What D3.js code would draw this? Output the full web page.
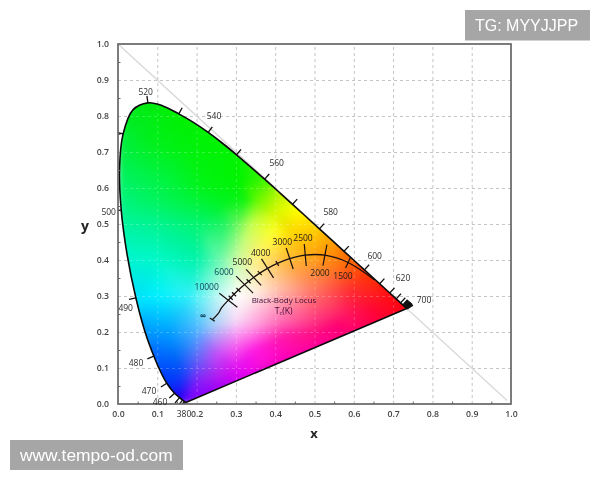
<!DOCTYPE html>
<html><head><meta charset="utf-8">
<script src="https://cdn.jsdelivr.net/npm/d3@7"></script>
<style>html,body{margin:0;padding:0;background:#fff;overflow:hidden}svg{display:block;filter:blur(.35px)}</style>
</head><body><svg id="c" width="600" height="480"></svg>
<script>
// ---- data: spectral locus
const wavelengths=[380,400,420,430,440,450,460,470,475,480,485,490,495,500,505,510,515,520,525,530,535,540,545,550,555,560,565,570,575,580,585,590,595,600,610,620,630,640,650,660,670,680,690,700];
const locusX=[.1741,.1733,.1714,.1689,.1644,.1566,.1440,.1241,.1096,.0913,.0687,.0454,.0235,.0082,.0039,.0130,.0380,.0760,.1142,.1547,.1929,.2296,.2658,.3016,.3373,.3731,.4087,.4441,.4788,.5125,.5448,.5752,.6029,.6270,.6658,.6915,.7079,.7190,.7260,.7300,.7320,.7334,.7344,.7347];
const locusY=[.0050,.0048,.0051,.0069,.0109,.0177,.0297,.0578,.0868,.1327,.2007,.2950,.4127,.5384,.6548,.7502,.8170,.8365,.8280,.8059,.7816,.7543,.7243,.6923,.6589,.6245,.5896,.5547,.5202,.4866,.4544,.4242,.3965,.3725,.3340,.3083,.2920,.2809,.2740,.2700,.2680,.2666,.2658,.2653];
const wlTicks=[420,430,440,450,460,470,480,490,500,510,520,530,540,550,560,570,580,590,600,610,620,630,640,650,660,670,680,690,700];
const wlLabels=[380,460,470,480,490,500,520,540,560,580,600,620,700];
// ---- data: black-body locus
const bbTemps=[Infinity,25000,15000,10000,9000,8000,7000,6000,5500,5000,4500,4000,3500,3000,2500,2000,1500,1000];
const bbX=[.2399,.2548,.2637,.2807,.2867,.2952,.3064,.3221,.3324,.3451,.3608,.3805,.4053,.4369,.4765,.5265,.5855,.6528];
const bbY=[.2342,.2509,.2674,.2884,.2952,.3048,.3166,.3318,.3410,.3516,.3635,.3768,.3907,.4041,.4137,.4133,.3931,.3444];
const isoTemps=[Infinity,10000,9000,8000,7000,6000,5500,5000,4500,4000,3500,3000,2500,2000,1500];
const isoDX=[5,18,4,4,4,17,4,15,4,12,3,7,2,-4,-5];
const isoDY=[3.3,14,4,4,4,17,4,16,4,19,5,21,22,21,11];
const bbLabels=["10000","6000","5000","4000","3000","2500","2000","1500","\u221e"];
const axisTicks=[0,.1,.2,.3,.4,.5,.6,.7,.8,.9,1];
const minorTicks=[.05,.15,.25,.35,.45,.55,.65,.75,.85,.95];
// ---- colours at chromaticity samples
const swatchX=[.074,.16,.23,.30,.37,.42,.46,.50,.54,.585,.64,.69,.74,
 .03,.01,0,.005,.022,.045,.07,.09,.125,.155,.175,
 .25,.33,.42,.5,.6,.68,
 .08,.17,.12,.22,.31,
 .084,.17,.27,.323,.356,.40,
 .1,.2,.27,.3,.34,.40,.45,
 .1,.2,.26,.3,.35,.42,.5,.56,
 .1,.18,.25,.3,.35,.42,.5,.59,.66,
 .13,.2,.25,.3,.35,.42,.5,.58,.65,
 .15,.2,.25,.3,.35,.42,.5,.56,
 .2,.25,.3,.37,.45,.16];
const swatchY=[.84,.81,.76,.70,.63,.58,.54,.50,.455,.41,.36,.31,.26,
 .80,.72,.6,.5,.41,.29,.2,.13,.055,.015,0,
 .04,.077,.119,.156,.2,.24,
 .72,.70,.62,.62,.62,
 .567,.567,.56,.567,.567,.53,
 .5,.5,.5,.5,.5,.48,.47,
 .4,.4,.4,.4,.4,.4,.41,.39,
 .3,.3,.3,.3,.31,.32,.32,.317,.3,
 .2,.2,.22,.23,.22,.23,.24,.25,.27,
 .12,.12,.14,.16,.15,.186,.2,.22,
 .06,.08,.1,.11,.15,.06];
const swatchC=["#00ec10","#00f000","#00f200","#00f400","#38f400","#c8f800","#ffff00","#ffd800","#ffa400","#ff6c00","#ff3400","#ff1010","#ff0010",
 "#00ec20","#00ee40","#00f270","#00f4a0","#00f6cc","#00e0ff","#0098ff","#0060ff","#0030f8","#2000f4","#7000ff",
 "#a000f8","#e800f0","#ff00c0","#ff00a0","#ff0070","#ff0030",
 "#00f020","#00f210","#00f440","#00f410","#00f400",
 "#00f460","#00f440","#00f420","#10f410","#68f800","#d8f800",
 "#00f490","#00f470","#20f460","#60f460","#c8ff50","#ffff20","#ffd000",
 "#00f8c8","#00f4ac","#70f8b0","#c8fca8","#fff080","#ffc040","#ffa010","#ff7810",
 "#00f0ff","#30f0f8","#b8f8f4","#ffffff","#fff0e4","#ffb8a0","#ff7860","#ff3030","#ff1820",
 "#00a0ff","#50b0ff","#b0d0f8","#f8d8f8","#ffa0e0","#ff68b0","#ff4080","#ff1860","#ff0830",
 "#0060f8","#6060f8","#c050f8","#f860f0","#ff18e0","#ff18a8","#ff1080","#ff0070",
 "#8020f8","#b020f0","#e010f0","#f810d0","#ff08a8","#1030f8"];

// ---- layout of annotations (not data)
const wlLabelAt={380:[184,413],460:[160,401.5],470:[149,390],480:[136,362.7],490:[125.7,307],500:[108.7,211.7],520:[145.7,91.7],540:[214,115],560:[276.7,162.3],580:[330.7,211.7],600:[374.7,255],620:[403,277],700:[424,299.7]};
const bbLabelAt=[[206.7,286],[224,271.3],[242.3,261.3],[260.7,252],[282.3,241.3],[303,237.7],[320,272.7],[343,275],[203.3,315]];
const M={l:118,t:44,r:511,b:404}, W=M.r-M.l, H=M.b-M.t;
const FONT='"Open Sans",sans-serif';

const svg=d3.select("#c");
const x=d3.scaleLinear().domain([0,1]).range([M.l,M.r]);
const y=d3.scaleLinear().domain([0,1]).range([M.b,M.t]);
const locus=wavelengths.map((w,i)=>({w,x:locusX[i],y:locusY[i]}));
const line=d3.line().x(d=>x(d.x)).y(d=>y(d.y)).curve(d3.curveCatmullRom);

const defs=svg.append("defs");
defs.append("clipPath").attr("id","loc").append("path").attr("d",line(locus)+"Z");
defs.append("clipPath").attr("id","plot").append("rect").attr("x",M.l).attr("y",M.t).attr("width",W).attr("height",H);

// grid
const gridG=svg.append("g");
function grid(sel,stroke,op){
  const gx=sel.append("g").attr("transform",`translate(0,${M.b})`).call(d3.axisBottom(x).tickValues(axisTicks.slice(1,-1)).tickSize(-H).tickFormat(""));
  const gy=sel.append("g").attr("transform",`translate(${M.l},0)`).call(d3.axisLeft(y).tickValues(axisTicks.slice(1,-1)).tickSize(-W).tickFormat(""));
  [gx,gy].forEach(g=>{g.select(".domain").remove();g.selectAll("line").attr("stroke",stroke).attr("stroke-opacity",op).attr("stroke-width",1).attr("stroke-dasharray","3,3");});
}
grid(gridG,"#c4c4c4",1);
// diagonal x + y = 1
svg.append("line").attr("x1",x(0)).attr("y1",y(1)).attr("x2",x(.99)).attr("y2",y(.01)).attr("stroke","#d8d8d8").attr("stroke-width",1.3);

// colour field: linear interpolation between the colour samples
const swatches=swatchC.map(c=>d3.rgb(c));
const px=swatchX.map(v=>x(v)), py=swatchY.map(v=>y(v));
const del=d3.Delaunay.from(px.map((v,i)=>[v,py[i]]));
const tris=del.triangles, list=[];
for(let t=0;t<tris.length/3;t++){const a=tris[3*t],b=tris[3*t+1],c=tris[3*t+2];
  list.push({a,b,c,d:(py[b]-py[c])*(px[a]-px[c])+(px[c]-px[b])*(py[a]-py[c])});}
function triAt(u,v){
  for(const t of list){
    const l1=((py[t.b]-py[t.c])*(u-px[t.c])+(px[t.c]-px[t.b])*(v-py[t.c]))/t.d;
    const l2=((py[t.c]-py[t.a])*(u-px[t.c])+(px[t.a]-px[t.c])*(v-py[t.c]))/t.d;
    const l3=1-l1-l2;
    if(l1>=-1e-6&&l2>=-1e-6&&l3>=-1e-6) return [t.a,t.b,t.c,l1,l2,l3];
  }
  const i=del.find(u,v); return [i,i,i,1,0,0];
}
const cv=document.createElement("canvas");cv.width=W;cv.height=H;
const ctx=cv.getContext("2d"),im=ctx.createImageData(W,H);
for(let j=0;j<H;j++)for(let i=0;i<W;i++){
  const k=4*(j*W+i);
  const [a,b,c,l1,l2,l3]=triAt(M.l+i+.5,M.t+j+.5), A=swatches[a],B=swatches[b],C=swatches[c];
  im.data[k]=l1*A.r+l2*B.r+l3*C.r;
  im.data[k+1]=l1*A.g+l2*B.g+l3*C.g;
  im.data[k+2]=l1*A.b+l2*B.b+l3*C.b;
  im.data[k+3]=255;
}
ctx.putImageData(im,0,0);
const cv2=document.createElement("canvas");cv2.width=W;cv2.height=H;
const c2=cv2.getContext("2d");c2.filter="blur(3px)";c2.drawImage(cv,0,0);
svg.append("image").attr("x",M.l).attr("y",M.t).attr("width",W).attr("height",H).attr("href",cv2.toDataURL()).attr("clip-path","url(#loc)");
grid(svg.append("g").attr("clip-path","url(#loc)"),"#fff",.22);

// locus outline
svg.append("path").attr("d",line(locus)+"Z").attr("fill","none").attr("stroke","#0b0b0b").attr("stroke-width",1.6).attr("stroke-linejoin","round");

// wavelength ticks
const tickG=svg.append("g").attr("clip-path","url(#plot)");
tickG.selectAll("line").data(wlTicks).join("line").each(function(w){
  const i=wavelengths.indexOf(w),a=locus[Math.max(i-1,0)],b=locus[Math.min(i+1,locus.length-1)];
  const tx=x(b.x)-x(a.x),ty=y(b.y)-y(a.y),n=Math.hypot(tx,ty)||1,len=7;
  d3.select(this).attr("x1",x(locus[i].x)).attr("y1",y(locus[i].y)).attr("x2",x(locus[i].x)+ty/n*len).attr("y2",y(locus[i].y)-tx/n*len);
}).attr("stroke","#111").attr("stroke-width",w=>w>=650?2.6:1.3);

// black-body locus
const bb=bbTemps.map((t,i)=>({t,x:bbX[i],y:bbY[i]}));
svg.append("path").attr("d",line(bb)).attr("fill","none").attr("stroke","#1a1010").attr("stroke-width",1.3);
svg.append("g").selectAll("line").data(isoTemps).join("line").each(function(t,i){
  const p=bb.find(d=>d.t===t);
  d3.select(this).attr("x1",x(p.x)-isoDX[i]/2).attr("y1",y(p.y)-isoDY[i]/2).attr("x2",x(p.x)+isoDX[i]/2).attr("y2",y(p.y)+isoDY[i]/2);
}).attr("stroke","#1a1010").attr("stroke-width",1.2);

// frame + axes
svg.append("rect").attr("x",M.l).attr("y",M.t).attr("width",W).attr("height",H).attr("fill","none").attr("stroke","#666").attr("stroke-width",1.7);
const ax=svg.append("g").attr("transform",`translate(0,${M.b})`).call(d3.axisBottom(x).tickValues(axisTicks).tickSize(0).tickPadding(7).tickFormat(d3.format(".1f")));
const ay=svg.append("g").attr("transform",`translate(${M.l},0)`).call(d3.axisLeft(y).tickValues(axisTicks).tickSize(0).tickPadding(9).tickFormat(d3.format(".1f")));
[ax,ay].forEach(g=>{g.select(".domain").remove();g.selectAll("text").attr("font-family",FONT).attr("font-size",8.7).attr("font-weight",600).attr("fill","#444");});
const mx=svg.append("g").attr("transform",`translate(0,${M.b})`).call(d3.axisTop(x).tickValues(minorTicks).tickSize(2.5).tickFormat(""));
const my=svg.append("g").attr("transform",`translate(${M.l},0)`).call(d3.axisRight(y).tickValues(minorTicks).tickSize(2.5).tickFormat(""));
[mx,my].forEach(g=>{g.select(".domain").remove();g.selectAll("line").attr("stroke","#666");});
const title=(t,tx,ty,s)=>svg.append("text").text(t).attr("x",tx).attr("y",ty).attr("text-anchor","middle").attr("dominant-baseline","central").attr("font-family",FONT).attr("font-weight",700).attr("font-size",s).attr("fill","#222");
title("x",314,433,13);title("y",85,225,14);

// annotations
const ann=(t,p,s,f)=>svg.append("text").text(t).attr("x",p[0]).attr("y",p[1]).attr("text-anchor","middle").attr("dominant-baseline","central").attr("font-family",FONT).attr("font-size",s).attr("fill",f);
wlLabels.forEach(w=>ann(w,wlLabelAt[w],8.5,"#2c2c2c"));
bbLabels.forEach((t,i)=>ann(t,bbLabelAt[i],i===8?9:8.5,i<2||i===8?"#0f4558":"#221c18").attr("font-weight",i===8?700:400));
ann("Black-Body Locus",[284,299.7],8,"#3e0c3a");
const tc=ann("T",[283.7,311],8.6,"#3e0c3a");
tc.append("tspan").text("c").attr("font-size",6).attr("dy",2);
tc.append("tspan").text("(K)").attr("dy",-2);

// watermarks
const wm=(rx,ry,w,h,t,tx,s)=>{
  svg.append("rect").attr("x",rx).attr("y",ry).attr("width",w).attr("height",h).attr("fill","#a6a6a6");
  svg.append("text").text(t).attr("x",tx).attr("y",ry+h/2).attr("dominant-baseline","central").attr("font-family",'"Liberation Sans",sans-serif').attr("font-size",s).attr("fill","#fff");
};
wm(465,10,125,30.5,"TG: MYYJJPP",475,16);
wm(10,440,173,30,"www.tempo-od.com",20,17.4);
</script></body></html>
